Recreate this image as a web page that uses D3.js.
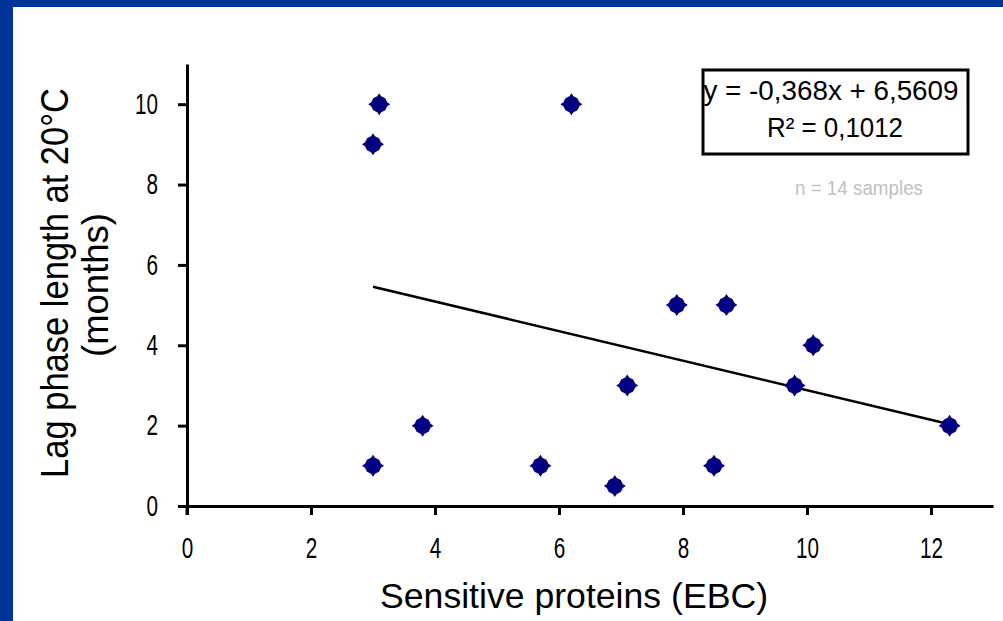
<!DOCTYPE html>
<html>
<head>
<meta charset="utf-8">
<script src="https://cdn.jsdelivr.net/npm/d3@7"></script>
<style>
  html, body { margin: 0; padding: 0; background: #fff; }
  svg text { font-family: "Liberation Sans", Arial, sans-serif; }
</style>
</head>
<body>
<div id="chart"></div>
<script>
// Sensitive proteins (EBC) vs lag phase length (months)
const proteins = [3.0, 3.1, 6.2, 3.0, 3.8, 5.7, 6.9, 7.1, 7.9, 8.7, 8.5, 9.8, 10.1, 12.3];
const lagMonths = [9, 10, 10, 1, 2, 1, 0.5, 3, 5, 5, 1, 3, 4, 2];
const xTicks = [0, 2, 4, 6, 8, 10, 12];
const yTicks = [0, 2, 4, 6, 8, 10];
const slope = -0.368, intercept = 6.5609;
const eqLines = ["y = -0,368x + 6,5609", "R² = 0,1012"];
const note = "n = 14 samples";

const W = 1003, H = 621;
const svg = d3.select("#chart").append("svg")
  .attr("width", W).attr("height", H);

// blue slide frame
svg.append("rect").attr("x", 0).attr("y", 0).attr("width", W).attr("height", 7).attr("fill", "#003399");
svg.append("rect").attr("x", 0).attr("y", 0).attr("width", 13).attr("height", H).attr("fill", "#003399");

const x = d3.scaleLinear().domain([0, 13]).range([187, 993]);
const y = d3.scaleLinear().domain([0, 11]).range([506, 64]);

// axes
const xAxis = svg.append("g")
  .attr("transform", `translate(0,${y(0)})`)
  .call(d3.axisBottom(x).tickValues(xTicks).tickSize(9).tickPadding(18).tickSizeOuter(0));
const yAxis = svg.append("g")
  .attr("transform", `translate(${x(0)},0)`)
  .call(d3.axisLeft(y).tickValues(yTicks).tickSize(9).tickPadding(20).tickSizeOuter(0));

[xAxis, yAxis].forEach(g => {
  g.select(".domain").attr("stroke", "#000").attr("stroke-width", 3);
  g.selectAll(".tick line").attr("stroke", "#000").attr("stroke-width", 3);
  // narrow, tall digits like the original
  g.selectAll(".tick text")
    .attr("fill", "#000")
    .style("font-size", "29px")
    .attr("textLength", d => String(d).length * 11.5)
    .attr("lengthAdjust", "spacingAndGlyphs");
});
xAxis.selectAll(".tick text").attr("dy", "0.85em");
// y axis line runs a little below the x axis (0 tick)
svg.append("line")
  .attr("x1", x(0)).attr("x2", x(0))
  .attr("y1", y(0)).attr("y2", y(0) + 9)
  .attr("stroke", "#000").attr("stroke-width", 3);

// axis titles
svg.append("text")
  .attr("x", 574).attr("y", 608)
  .attr("text-anchor", "middle")
  .attr("textLength", 388).attr("lengthAdjust", "spacingAndGlyphs")
  .style("font-size", "35px")
  .text("Sensitive proteins (EBC)");

svg.append("text")
  .attr("transform", "translate(68,283) rotate(-90)")
  .attr("text-anchor", "middle")
  .attr("textLength", 390).attr("lengthAdjust", "spacingAndGlyphs")
  .style("font-size", "39px")
  .text("Lag phase length at 20°C");

svg.append("text")
  .attr("transform", "translate(108,285) rotate(-90)")
  .attr("text-anchor", "middle")
  .attr("textLength", 144).attr("lengthAdjust", "spacingAndGlyphs")
  .style("font-size", "36px")
  .text("(months)");

// trend line
const xMin = d3.min(proteins), xMax = d3.max(proteins);
svg.append("line")
  .attr("x1", x(xMin)).attr("y1", y(slope * xMin + intercept))
  .attr("x2", x(xMax)).attr("y2", y(slope * xMax + intercept))
  .attr("stroke", "#000").attr("stroke-width", 2.5);

// markers
const marker = "M0,-11 L2,-8 L6,-6 L8,-2 L11,0 L8,2 L6,6 L2,8 L0,11 L-2,8 L-6,6 L-8,2 L-11,0 L-8,-2 L-6,-6 L-2,-8 Z";
svg.selectAll(".pt")
  .data(proteins.map((p, i) => ({ p, m: lagMonths[i] })))
  .enter()
  .append("path")
  .attr("class", "pt")
  .attr("d", marker)
  .attr("transform", d => `translate(${x(d.p)},${y(d.m)})`)
  .attr("fill", "#000080");

// equation box
svg.append("rect")
  .attr("x", 703).attr("y", 70).attr("width", 265).attr("height", 84)
  .attr("fill", "#fff").attr("stroke", "#000").attr("stroke-width", 3);
svg.append("text")
  .attr("x", 831).attr("y", 100)
  .attr("text-anchor", "middle")
  .attr("textLength", 255).attr("lengthAdjust", "spacingAndGlyphs")
  .style("font-size", "28px")
  .text(eqLines[0]);
svg.append("text")
  .attr("x", 835).attr("y", 137)
  .attr("text-anchor", "middle")
  .attr("textLength", 136).attr("lengthAdjust", "spacingAndGlyphs")
  .style("font-size", "27px")
  .text(eqLines[1]);
svg.append("text")
  .attr("x", 859).attr("y", 195)
  .attr("text-anchor", "middle")
  .attr("textLength", 128).attr("lengthAdjust", "spacingAndGlyphs")
  .attr("fill", "#c0c0c0")
  .style("font-size", "21px")
  .text(note);
</script>
</body>
</html>
